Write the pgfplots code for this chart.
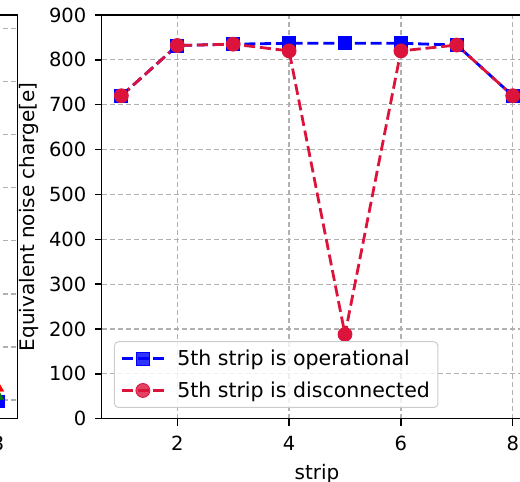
\documentclass[border=0pt]{standalone}
\usepackage{fontspec}
\setmainfont{DejaVu Sans}
\usepackage{pgfplots}
\pgfplotsset{compat=1.18}

\definecolor{crimson}{HTML}{DC143C}
\definecolor{gridgray}{HTML}{B0B0B0}
\definecolor{legendedge}{HTML}{CCCCCC}
\newcommand{\tickfont}{\fontsize{19.5}{23.4}\selectfont}
\newcommand{\labelfont}{\fontsize{20}{24}\selectfont}
\newcommand{\legendfont}{\fontsize{20.5}{24.6}\selectfont}

\pgfplotsset{
  panel/.style={
    scale only axis, width=430.5pt, height=403.7pt,
    xmin=0.65, xmax=8.35,
    axis line style={line width=1.4pt},
    tick align=outside, tick pos=left,
    major tick length=7pt,
    every tick/.style={black, line width=1.4pt},
    grid=major,
    major grid style={gridgray, line width=1.2pt, dash pattern=on 5pt off 3pt},
    xtick={2,4,6,8},
    tick label style={font=\tickfont},
    xticklabel style={yshift=-7pt},
    yticklabel style={xshift=-5pt},
    /pgf/number format/assume math mode=true,
  },
  series/.style={line width=2.8pt, dash pattern=on 11pt off 4.8pt,
    mark options={solid, line width=0.8pt}},
}

\begin{document}
\begin{tikzpicture}
\useasboundingbox (0pt,0pt) rectangle (520pt,482pt);
\clip (0pt,0pt) rectangle (520pt,482pt);

% neighbouring panel on the left
\begin{axis}[panel, at={(17.3pt,63.3pt)}, anchor=south east,
  ymin=-0.353, ymax=7.26, ytick={0,...,7}, yticklabels={}]
\addplot[only marks, mark=square*, blue, mark size=6pt] coordinates {(8,-0.02)};
\addplot[only marks, mark=triangle*, green!50!black, mark size=7pt] coordinates {(8,0.075)};
\addplot[only marks, mark=triangle*, red, mark size=7pt] coordinates {(8,0.23)};
\end{axis}

% noise per strip
\begin{axis}[panel, at={(101.8pt,63.3pt)}, anchor=south west,
  ymin=0, ymax=900, ytick={0,100,...,900},
  xlabel={strip}, ylabel={Equivalent noise charge[e]},
  every axis x label/.style={at={(axis description cs:0.5,-0.137)}, anchor=center, font=\labelfont},
  every axis y label/.style={at={(axis description cs:-0.169,0.5)}, rotate=90, anchor=center, font=\labelfont},
  legend style={at={(0.0283,0.0265)}, anchor=south west,
    draw=legendedge, line width=1pt, rounded corners=4pt,
    fill=white, fill opacity=0.8, text opacity=1, font=\legendfont,
    inner xsep=6pt, inner ysep=6.5pt, row sep=10.6pt, column sep=10pt,
    cells={anchor=west}},
  legend image code/.code={%
    \draw[mark repeat=2, mark phase=2, #1]
      plot coordinates {(0pt,0pt) (21pt,0pt) (42pt,0pt)};},
]
\addplot[series, blue, mark=square*, mark size=6.5pt] coordinates {
  (1,720) (2,832) (3,835) (4,837) (5,837) (6,837) (7,833) (8,720)};
\addlegendentry{5th strip is operational}
\addplot[series, crimson, mark=*, mark size=7pt] coordinates {
  (1,720) (2,832) (3,835) (4,820) (5,188) (6,820) (7,833) (8,720)};
\addlegendentry{5th strip is disconnected}
\end{axis}
\end{tikzpicture}
\end{document}
